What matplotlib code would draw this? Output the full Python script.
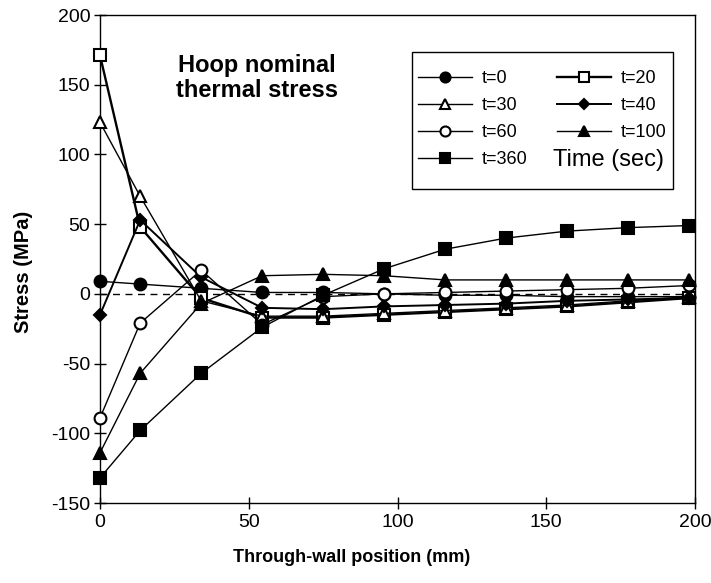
import matplotlib
matplotlib.use("Agg")
import matplotlib.pyplot as plt
from matplotlib.patches import Rectangle

plt.rcParams['font.family'] = ['Liberation Sans', 'DejaVu Sans']
plt.rcParams['axes.unicode_minus'] = False

# Through-wall positions (mm)
position = [0, 13.5, 34, 54.5, 75, 95.5, 116, 136.5, 157, 177.5, 198]

# Hoop stress (MPa) for each time (sec)
t0   = [9, 7, 4, 1, 1, 0, -1, -1, -2, -2, -2]
t20  = [171, 48, -3, -17, -17, -15, -13, -11, -9, -6, -3]
t30  = [123, 70, -5, -16, -16, -14, -12, -10, -8, -5, -2]
t40  = [-15, 53, 12, -10, -11, -9, -8, -7, -5, -4, -3]
t60  = [-89, -21, 17, -22, -2, 0, 1, 2, 3, 4, 6]
t100 = [-114, -57, -7, 13, 14, 13, 10, 10, 10, 10, 10]
t360 = [-132, -98, -57, -24, -1, 18, 32, 40, 45, 47.5, 49]

labels = ['t=0', 't=20', 't=30', 't=40', 't=60', 't=100', 't=360']
x_ticks = [0, 50, 100, 150, 200]
y_ticks = [-150, -100, -50, 0, 50, 100, 150, 200]

W, H = 711, 583
fig = plt.figure(figsize=(W / 100, H / 100), dpi=100)
ax_l, ax_r, ax_t, ax_b = 100, 695, 15, 503
ax = fig.add_axes([ax_l / W, 1 - ax_b / H, (ax_r - ax_l) / W, (ax_b - ax_t) / H])


def fx(px):
    return (px - ax_l) / (ax_r - ax_l)


def fy(py):
    return (ax_b - py) / (ax_b - ax_t)


ax.axhline(0, color='black', lw=1.0, ls=(0, (5, 4)), zorder=1)

styles = [
    (t0,   'o', 'black', 8.5, 1.0),
    (t20,  's', 'white', 8.0, 1.7),
    (t30,  '^', 'white', 8.5, 1.0),
    (t40,  'D', 'black', 6.5, 1.4),
    (t60,  'o', 'white', 8.5, 1.0),
    (t100, '^', 'black', 8.5, 1.0),
    (t360, 's', 'black', 8.0, 1.0),
]
handles = []
for (vals, mk, fc, ms, lw), lab in zip(styles, labels):
    h, = ax.plot(position, vals, color='black', lw=lw, marker=mk, ms=ms,
                 markerfacecolor=fc, markeredgecolor='black', markeredgewidth=1.5,
                 label=lab, zorder=3, clip_on=False)
    handles.append(h)

ax.set_xlim(0, 200)
ax.set_ylim(-150, 200)
ax.set_xticks(x_ticks)
ax.set_yticks(y_ticks)
ax.tick_params(direction='inout', length=8, width=1, labelsize=14, pad=4)
ax.tick_params(axis='y', pad=3)
for s in ax.spines.values():
    s.set_linewidth(1.0)

ax.set_xlabel('Through-wall position (mm)', fontsize=13, fontweight='bold')
ax.xaxis.set_label_coords(fx(352), -0.095)
ax.set_ylabel('Stress (MPa)', fontsize=14.5, fontweight='bold')
ax.yaxis.set_label_coords(-0.113, fy(272))

ax.text(fx(257), fy(78), 'Hoop nominal\nthermal stress', transform=ax.transAxes,
        ha='center', va='center', fontsize=17, fontweight='bold', linespacing=1.15)

# legend box
ax.add_patch(Rectangle((fx(412), fy(189)), fx(673) - fx(412), fy(52) - fy(189),
                       transform=ax.transAxes, facecolor='white', edgecolor='black',
                       lw=1.0, zorder=4, clip_on=False))

fs = 13
hl, htp = 3.0, 0.55
order = [0, 2, 4, 6, 1, 3, 5]
leg = ax.legend([handles[i] for i in order], [labels[i] for i in order],
                ncol=2, loc='upper left', bbox_to_anchor=(fx(418), fy(70)),
                fontsize=fs, frameon=False, handlelength=hl, labelspacing=0.56,
                columnspacing=1.6, borderpad=0, borderaxespad=0,
                handletextpad=htp, markerscale=0.85)
leg.set_zorder(5)

fig.canvas.draw()
r = fig.canvas.get_renderer()
texts = leg.get_texts()
bb360 = texts[3].get_window_extent(r)
bb20 = texts[4].get_window_extent(r)
x_px = bb20.x0 - (hl + htp) * fs * 100 / 72 - 4
y_px = (bb360.y0 + bb360.y1) / 2
fig.text(x_px / W, y_px / H, 'Time (sec)', ha='left', va='center', fontsize=17, zorder=6)

fig.savefig('out.png', dpi=100)
